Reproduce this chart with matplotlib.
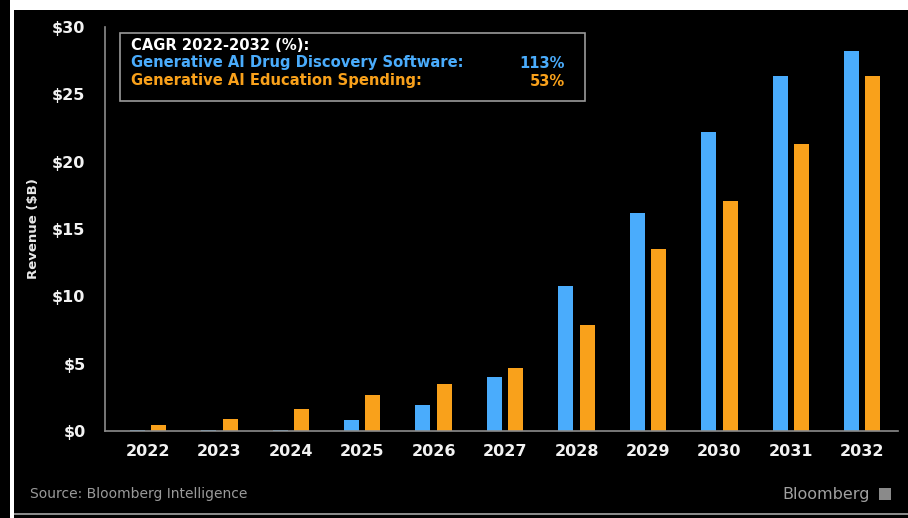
import numpy as np
import matplotlib.pyplot as plt
from matplotlib.patches import Rectangle

years = ['2022', '2023', '2024', '2025', '2026', '2027',
         '2028', '2029', '2030', '2031', '2032']
drug_discovery = [0.05, 0.07, 0.1, 0.85, 1.9, 4.0, 10.8, 16.2, 22.2, 26.35, 28.2]
education = [0.45, 0.9, 1.65, 2.7, 3.5, 4.65, 7.9, 13.5, 17.1, 21.3, 26.35]
y_ticks = [0, 5, 10, 15, 20, 25, 30]
cagr_labels = ['Generative AI Drug Discovery Software:', 'Generative AI Education Spending:']
cagr_values = ['113%', '53%']

BLUE = '#4aacfc'
ORANGE = '#f9a11b'
W, H = 908, 518

fig = plt.figure(figsize=(W / 100, H / 100), dpi=100, facecolor='black')

# white frame pieces from the screenshot crop
fig.patches.append(Rectangle((10 / W, 1 - 10 / H), 1, 10 / H, transform=fig.transFigure,
                             facecolor='white', edgecolor='none'))
fig.patches.append(Rectangle((10 / W, 0), 4 / W, 1, transform=fig.transFigure,
                             facecolor='white', edgecolor='none'))
fig.patches.append(Rectangle((14 / W, 3 / H), 1, 2 / H, transform=fig.transFigure,
                             facecolor='#8a8a8a', edgecolor='none'))

ax = fig.add_axes([105 / W, (H - 431) / H, (898 - 105) / W, (431 - 27) / H])
ax.set_facecolor('black')

x = np.arange(len(years))
bw = 0.21
ax.bar(x - 0.15, drug_discovery, bw, color=BLUE)
ax.bar(x + 0.15, education, bw, color=ORANGE)

ax.set_xlim(-0.6, 10.5)
ax.set_ylim(0, 30)
ax.set_xticks(x)
ax.set_xticklabels(years)
ax.set_yticks(y_ticks)
ax.set_yticklabels(['$' + str(v) for v in y_ticks])
ax.tick_params(length=0, colors='white', labelsize=11.5)
ax.tick_params(axis='x', pad=9)
ax.tick_params(axis='y', pad=14)
for lab in ax.get_xticklabels() + ax.get_yticklabels():
    lab.set_fontweight('bold')
    lab.set_color('#f2f2f2')
for s in ['top', 'right']:
    ax.spines[s].set_visible(False)
for s in ['left', 'bottom']:
    ax.spines[s].set_color('#8c8c8c')
    ax.spines[s].set_linewidth(1.2)

fig.text(33 / W, (H - 229) / H, 'Revenue ($B)', rotation=90, color='#e8e8e8',
         fontsize=9.5, fontweight='bold', ha='center', va='center')

# CAGR box
fig.patches.append(Rectangle((120 / W, (H - 101) / H), 465 / W, 68 / H,
                             transform=fig.transFigure, facecolor='black',
                             edgecolor='#9a9a9a', linewidth=1.2))
fig.text(131 / W, (H - 45) / H, 'CAGR 2022-2032 (%):', color='white',
         fontsize=10.6, fontweight='bold', va='center')
for i, (lab, val, col) in enumerate(zip(cagr_labels, cagr_values, [BLUE, ORANGE])):
    yy = (H - 63 - 18 * i) / H
    fig.text(131 / W, yy, lab, color=col, fontsize=10.6, fontweight='bold', va='center')
    fig.text(565 / W, yy, val, color=col, fontsize=10.6, fontweight='bold',
             va='center', ha='right')

fig.text(30 / W, (H - 494) / H, 'Source: Bloomberg Intelligence', color='#9a9a9a',
         fontsize=10, va='center', family=['Liberation Sans Narrow', 'DejaVu Sans'])
fig.text(870 / W, (H - 494) / H, 'Bloomberg', color='#a0a0a0', fontsize=11.5,
         va='center', ha='right', family=['Liberation Sans Narrow', 'DejaVu Sans'])
fig.patches.append(Rectangle((879 / W, (H - 500) / H), 12 / W, 12 / H,
                             transform=fig.transFigure, facecolor='#8a8a8a',
                             edgecolor='none'))

fig.savefig('out.png', dpi=100, facecolor='black')
